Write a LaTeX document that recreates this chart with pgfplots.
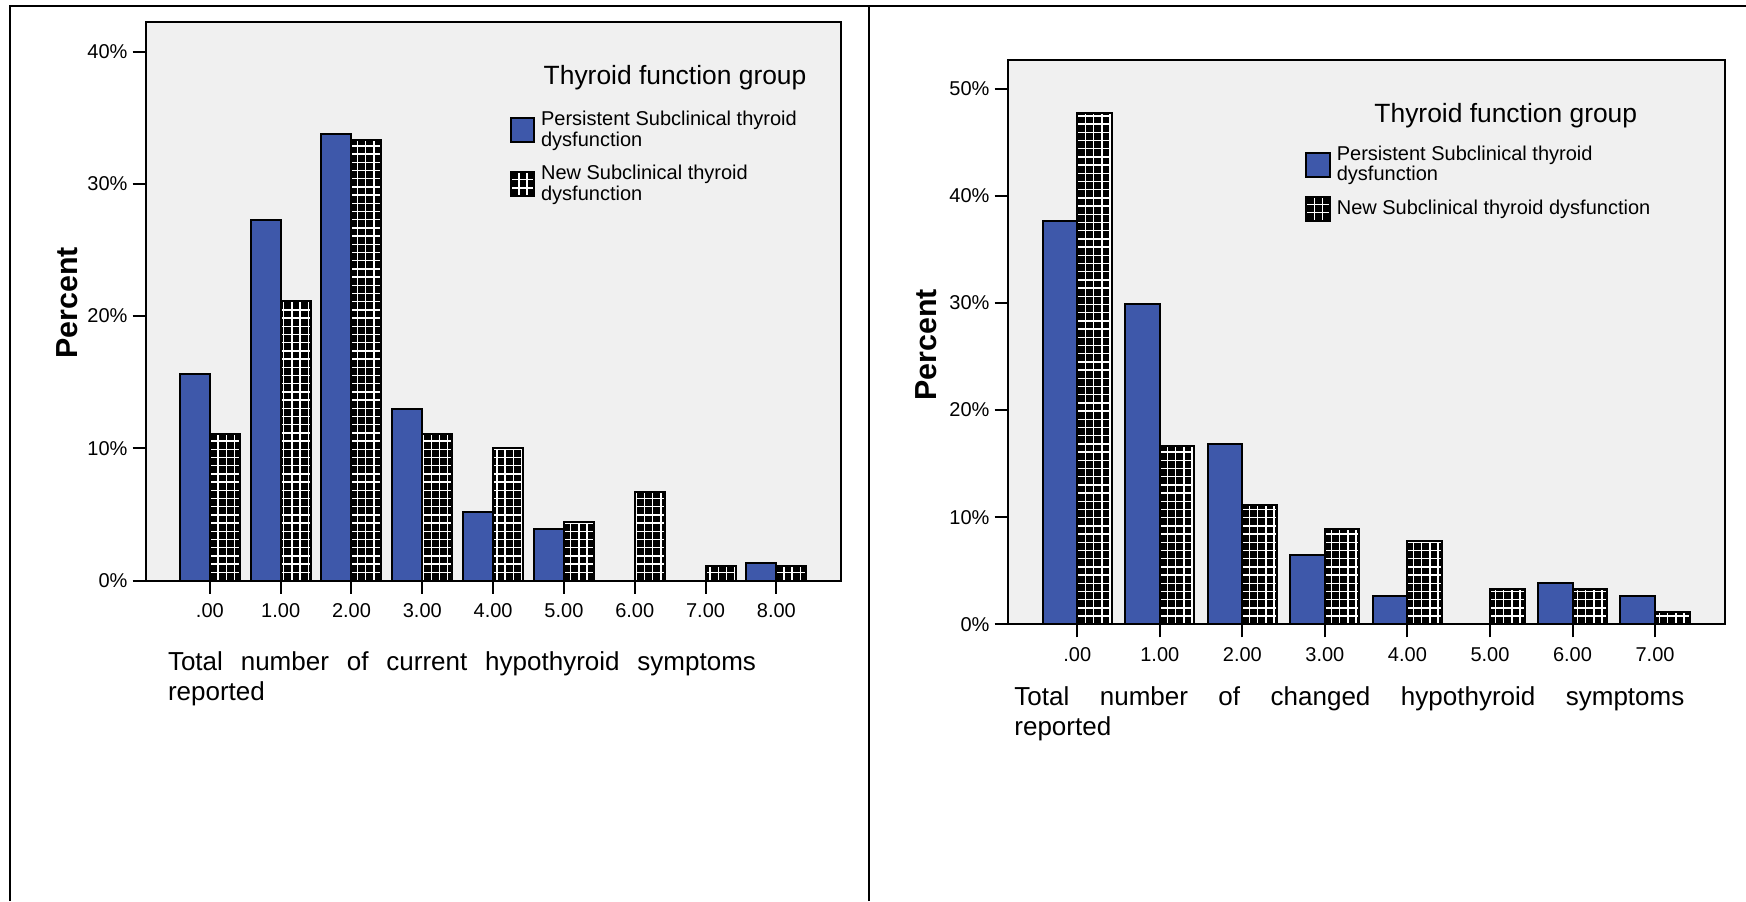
\documentclass[border=0pt]{standalone}
\usepackage{pgfplots}
\pgfplotsset{compat=1.18}
\usepackage{fontspec}
\setmainfont{Liberation Sans}

\definecolor{barblue}{RGB}{62,88,170}
\definecolor{plotbg}{RGB}{240,240,240}

% white lattice (4.1pt period) stroked inside a filled shape, at pgf level
\tikzset{whitegrid/.style={path picture={%
  \pgfpointanchor{path picture bounding box}{south west}%
  \pgfgetlastxy{\gx}{\gy}%
  \pgfpointanchor{path picture bounding box}{north east}%
  \pgfgetlastxy{\hx}{\hy}%
  \foreach \k in {1,...,90}{%
    \pgfmathsetmacro\d{\k*4.1}%
    \pgfsetlinewidth{0.65pt}\pgfsetstrokecolor{white}%
    \pgfpathmoveto{\pgfpointadd{\pgfpoint{\gx}{\gy}}{\pgfpoint{\d pt}{0pt}}}%
    \pgfpathlineto{\pgfpointadd{\pgfpoint{\gx}{\hy}}{\pgfpoint{\d pt}{0pt}}}%
    \pgfpathmoveto{\pgfpointadd{\pgfpoint{\gx}{\gy}}{\pgfpoint{0pt}{\d pt}}}%
    \pgfpathlineto{\pgfpointadd{\pgfpoint{\hx}{\gy}}{\pgfpoint{0pt}{\d pt}}}%
    \pgfusepath{stroke}%
  }}}}

\pgfplotsset{
  spss/.style={
    scale only axis, ybar=0pt, ymin=0,
    axis background/.style={fill=plotbg},
    axis line style={line width=1pt},
    every tick/.style={black, line width=1pt},
    tick align=outside, major tick length=6.5pt,
    xtick pos=lower, ytick pos=left,
    tick label style={font=\fontsize{10}{12}\selectfont},
    xticklabel style={anchor=center, yshift=-8.7pt},
    yticklabel style={xshift=1pt},
    ylabel={Percent},
    ylabel style={font=\fontsize{15.2}{18}\selectfont\bfseries, anchor=center},
    legend style={draw=none, fill=none, inner sep=0pt, row sep=4pt,
      column sep=1pt, anchor=north west,
      font=\fontsize{10}{10.4}\selectfont,
      cells={anchor=west, align=left, inner sep=1pt}},
  },
  persistent/.style={fill=barblue, draw=black, line width=1pt,
    legend image code/.code={
      \draw[fill=barblue, draw=black, line width=1pt] (0pt,-6pt) rectangle (11.7pt,6pt);}},
  newsub/.style={fill=black, draw=black, line width=1pt, whitegrid,
    legend image code/.code={
      \draw[fill=black, draw=black, line width=1pt, whitegrid] (0pt,-6pt) rectangle (11.7pt,6pt);}},
}

\begin{document}
\begin{tikzpicture}
\useasboundingbox (0,0) rectangle (873pt,450.5pt);
% panel frame
\draw[line width=1.1pt] (5pt,0) -- (5pt,447.5pt) -- (873pt,447.5pt);
\draw[line width=1.1pt] (434.5pt,0) -- (434.5pt,447.5pt);

% current symptoms
\begin{axis}[spss,
  at={(72.75pt,160.25pt)}, anchor=south west,
  width=347.6pt, height=279pt,
  xmin=-0.909, xmax=8.909, ymax=42.2,
  bar width=15pt,
  xtick={0,1,2,3,4,5,6,7,8},
  xticklabels={.00,1.00,2.00,3.00,4.00,5.00,6.00,7.00,8.00},
  ytick={0,10,20,30,40},
  yticklabels={0\%,10\%,20\%,30\%,40\%},
  ylabel style={at={(axis description cs:-0.1129,0.4973)}},
  legend style={at={(0.5233,0.8497)}},
]
\addplot[persistent] coordinates {(0,15.58) (1,27.27) (2,33.77) (3,12.99) (4,5.19) (5,3.90) (6,0) (7,0) (8,1.30)};
\addlegendentry{Persistent Subclinical thyroid\\dysfunction}
\addplot[newsub] coordinates {(0,11.11) (1,21.11) (2,33.33) (3,11.11) (4,10.00) (5,4.44) (6,6.67) (7,1.11) (8,1.11)};
\addlegendentry{New Subclinical thyroid\\dysfunction}
\node[anchor=base west, inner sep=0pt, font=\fontsize{13.2}{15}\selectfont]
  at (rel axis cs:0.5722,0.888) {Thyroid function group};
\end{axis}
\node[anchor=base west, inner sep=0pt, font=\fontsize{13}{15}\selectfont] at (83.8pt,115.5pt)
  {\makebox[294pt][s]{Total number of current hypothyroid symptoms}};
\node[anchor=base west, inner sep=0pt, font=\fontsize{13}{15}\selectfont] at (83.8pt,100.5pt) {reported};

% changed symptoms
\begin{axis}[spss,
  at={(503.75pt,138.35pt)}, anchor=south west,
  width=358.65pt, height=281.9pt,
  xmin=-0.845, xmax=7.845, ymax=52.64,
  bar width=17.3pt,
  xtick={0,1,2,3,4,5,6,7},
  xticklabels={.00,1.00,2.00,3.00,4.00,5.00,6.00,7.00},
  ytick={0,10,20,30,40,50},
  yticklabels={0\%,10\%,20\%,30\%,40\%,50\%},
  ylabel style={at={(axis description cs:-0.1136,0.4954)}},
  legend style={at={(0.4148,0.857)}},
]
\addplot[persistent] coordinates {(0,37.66) (1,29.87) (2,16.88) (3,6.49) (4,2.60) (5,0) (6,3.90) (7,2.60)};
\addlegendentry{Persistent Subclinical thyroid\\dysfunction}
\addplot[newsub] coordinates {(0,47.78) (1,16.67) (2,11.11) (3,8.89) (4,7.78) (5,3.33) (6,3.33) (7,1.11)};
\addlegendentry{New Subclinical thyroid dysfunction}
\node[anchor=base west, inner sep=0pt, font=\fontsize{13.2}{15}\selectfont]
  at (rel axis cs:0.511,0.8904) {Thyroid function group};
\end{axis}
\node[anchor=base west, inner sep=0pt, font=\fontsize{13}{15}\selectfont] at (507pt,98pt)
  {\makebox[335pt][s]{Total number of changed hypothyroid symptoms}};
\node[anchor=base west, inner sep=0pt, font=\fontsize{13}{15}\selectfont] at (507pt,83pt) {reported};
\end{tikzpicture}
\end{document}
